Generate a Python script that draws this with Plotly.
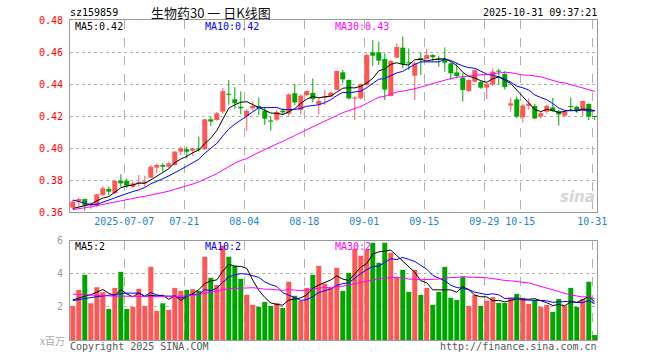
import numpy as np
import plotly.graph_objects as go

dates = ["06-24","06-25","06-26","06-27","06-30",
         "07-01","07-02","07-03","07-04","07-07","07-08","07-09","07-10","07-11",
         "07-14","07-15","07-16","07-17","07-18","07-21","07-22","07-23","07-24","07-25",
         "07-28","07-29","07-30","07-31","08-01","08-04","08-05","08-06","08-07","08-08",
         "08-11","08-12","08-13","08-14","08-15","08-18","08-19","08-20","08-21","08-22",
         "08-25","08-26","08-27","08-28","08-29","09-01","09-02","09-03","09-04","09-05",
         "09-08","09-09","09-10","09-11","09-12","09-15","09-16","09-17","09-18","09-19",
         "09-22","09-23","09-24","09-25","09-26","09-29","09-30","10-09","10-10","10-13",
         "10-14","10-15","10-16","10-17","10-20","10-21","10-22","10-23","10-24","10-27",
         "10-28","10-29","10-30","10-31"]

open_ = [.3627,.3665,.3681,.3642,.3640,.3706,.3744,.3717,.3796,.3794,.3758,.3779,.3779,.3815,
         .3877,.3894,.3883,.3894,.3977,.3992,.3983,.3994,.3992,.4179,.4175,.4227,.4338,.4305,
         .4258,.4198,.4248,.4263,.4233,.4171,.4177,.4233,.4215,.4342,.4238,.4331,.4344,.4273,
         .4313,.4321,.4363,.4473,.4425,.4308,.4310,.4394,.4598,.4598,.4556,.4325,.4565,.4627,
         .4535,.4452,.4560,.4556,.4581,.4556,.4558,.4529,.4473,.4440,.4356,.4415,.4412,.4377,
         .4396,.4481,.4463,.4265,.4304,.4192,.4263,.4263,.4196,.4227,.4254,.4231,.4202,.4260,
         .4258,.4231,.4275,.4198]
high = [.3675,.3690,.3683,.3660,.3715,.3760,.3758,.3800,.3835,.3810,.3790,.3831,.3827,.3894,
        .3904,.3904,.3915,.3983,.4008,.4008,.4002,.4071,.4181,.4196,.4225,.4375,.4425,.4380,
        .4354,.4242,.4290,.4315,.4258,.4196,.4240,.4248,.4342,.4400,.4335,.4360,.4435,.4310,
        .4363,.4350,.4485,.4488,.4429,.4325,.4404,.4592,.4675,.4665,.4592,.4550,.4654,.4696,
        .4623,.4540,.4596,.4620,.4585,.4575,.4629,.4535,.4533,.4467,.4430,.4495,.4420,.4404,
        .4498,.4496,.4480,.4315,.4321,.4277,.4310,.4275,.4225,.4270,.4313,.4240,.4232,.4315,
        .4265,.4294,.4280,.4200]
low = [.3621,.3633,.3608,.3620,.3630,.3700,.3706,.3713,.3758,.3748,.3748,.3758,.3758,.3810,
       .3842,.3852,.3873,.3890,.3956,.3935,.3950,.3977,.3988,.4138,.4170,.4213,.4270,.4245,
       .4210,.4108,.4233,.4206,.4144,.4108,.4170,.4206,.4200,.4269,.4210,.4325,.4285,.4210,
       .4269,.4317,.4360,.4404,.4304,.4175,.4304,.4390,.4513,.4519,.4300,.4321,.4560,.4498,
       .4488,.4300,.4456,.4554,.4540,.4508,.4477,.4425,.4435,.4290,.4352,.4410,.4370,.4304,
       .4390,.4396,.4365,.4227,.4185,.4160,.4240,.4180,.4185,.4215,.4225,.4140,.4195,.4235,
       .4220,.4200,.4175,.4175]
close = [.3665,.3681,.3640,.3655,.3710,.3748,.3727,.3794,.3779,.3765,.3779,.3785,.3790,.3883,
         .3894,.3883,.3904,.3977,.3998,.3977,.3996,.3990,.4179,.4165,.4217,.4355,.4332,.4279,
         .4248,.4232,.4263,.4248,.4183,.4165,.4225,.4223,.4335,.4285,.4327,.4356,.4306,.4294,
         .4319,.4346,.4481,.4429,.4310,.4312,.4398,.4581,.4577,.4546,.4365,.4544,.4631,.4525,
         .4529,.4529,.4556,.4581,.4567,.4554,.4533,.4467,.4450,.4363,.4425,.4486,.4377,.4402,
         .4477,.4477,.4381,.4279,.4196,.4265,.4277,.4185,.4217,.4263,.4231,.4210,.4227,.4256,
         .4231,.4294,.4196,.4194]
volume = [2.06,3.03,3.94,2.22,3.19,2.89,1.88,3.15,4.12,1.88,2.00,3.09,2.06,4.42,1.76,2.22,
          1.82,3.15,2.97,3.03,3.07,2.97,5.03,3.76,3.33,5.70,5.03,4.48,3.70,2.73,2.12,2.00,
          2.30,2.06,2.24,1.94,3.52,2.67,2.36,3.15,3.94,4.48,3.40,3.19,4.36,2.97,4.06,5.52,
          5.09,5.45,5.88,4.67,5.88,5.27,3.80,4.24,2.91,4.24,2.73,3.15,2.12,2.91,4.42,2.55,
          2.42,3.80,2.06,2.73,2.06,2.38,2.59,2.24,2.24,2.55,2.79,2.55,2.18,2.42,2.00,2.12,
          1.70,2.48,2.06,3.15,2.00,2.48,3.52,0.30]

# moving-average values before a full window is available
ma5_head = [.3622,.3630,.3636,.3648]
ma10_head = [.3675,.3665,.3652,.3645,.3648,.3660,.3672,.3688,.3702]
ma30_head = [.3615,.3620,.3626,.3632,.3640,.3648,.3656,.3664,.3672,.3680,.3686,.3692,.3698,
             .3705,.3712,.3720,.3730,.3742,.3752,.3763,.3775,.3788,.3805,.3822,.3840,.3862,
             .3885,.3905,.3922]
vma5_head = [2.42,2.55,2.65,2.73]
vma10_head = [2.38,2.45,2.52,2.58,2.62,2.66,2.70,2.75,2.78]
vma30_head = [2.77,2.76,2.74,2.72,2.70,2.68,2.66,2.65,2.64,2.63,2.63,2.62,2.62,2.62,2.62,
              2.62,2.62,2.63,2.64,2.66,2.70,2.75,2.82,2.90,2.98,3.06,3.10,3.12,3.13]

tick_dates = ["07-07","07-21","08-04","08-18","09-01","09-15","09-29","10-15","10-31"]
tick_text = ["2025-07-07","07-21","08-04","08-18","09-01","09-15","09-29","10-15","10-31"]
price_ticks = [0.36,0.38,0.40,0.42,0.44,0.46,0.48]
vol_ticks = [2,4,6]

code = "sz159859"
title = "生物药30 一 日K线图"
stamp = "2025-10-31 09:37:21"
legend_main = ["MA5:0.42","MA10:0.42","MA30:0.43"]
legend_vol = ["MA5:2","MA10:2","MA30:2"]


def sma(vals, n, head):
    v = np.asarray(vals, float)
    out = list(head)
    for i in range(n - 1, len(v)):
        out.append(v[i - n + 1:i + 1].mean())
    return out


RED = "#ff5656"
GREEN = "#00a600"
MONO = "DejaVu Sans Mono"

n = len(dates)
x = np.arange(n)
o = np.array(open_); c = np.array(close); h = np.array(high); l = np.array(low)
up = c >= o
colors = [RED if u else GREEN for u in up]

fig = go.Figure()

# wicks
for flag, col in ((True, RED), (False, GREEN)):
    wx, wy = [], []
    for i in range(n):
        if up[i] == flag:
            wx += [i, i, None]
            wy += [l[i], h[i], None]
    fig.add_trace(go.Scatter(x=wx, y=wy, mode="lines", line=dict(color=col, width=1),
                             xaxis="x", yaxis="y", hoverinfo="skip"))

# bodies
base = np.minimum(o, c)
hgt = np.maximum(np.abs(c - o), 0.0007)
fig.add_trace(go.Bar(x=x, y=hgt, base=base, width=0.83, marker=dict(color=colors, line=dict(width=0)),
                     xaxis="x", yaxis="y", hoverinfo="skip"))

# price MAs
for vals, col in ((sma(close, 5, ma5_head), "#000000"),
                  (sma(close, 10, ma10_head), "#0000ff"),
                  (sma(close, 30, ma30_head), "#ff00ff")):
    fig.add_trace(go.Scatter(x=x, y=vals, mode="lines", line=dict(color=col, width=1),
                             xaxis="x", yaxis="y", hoverinfo="skip"))

# volume
fig.add_trace(go.Bar(x=x, y=volume, width=0.83, marker=dict(color=colors, line=dict(width=0)),
                     xaxis="x2", yaxis="y2", hoverinfo="skip"))
for vals, col in ((sma(volume, 5, vma5_head), "#000000"),
                  (sma(volume, 10, vma10_head), "#0000ff"),
                  (sma(volume, 30, vma30_head), "#ff00ff")):
    fig.add_trace(go.Scatter(x=x, y=vals, mode="lines", line=dict(color=col, width=1),
                             xaxis="x2", yaxis="y2", hoverinfo="skip"))

GRID_SHIFT = 0.42
tickpos = [dates.index(d) - GRID_SHIFT for d in tick_dates]
xr = [-0.467, 87.37]

common_x = dict(range=xr, tickvals=tickpos, showgrid=True, gridcolor="#b0b0b0", griddash="dash",
                gridwidth=1, showline=True, mirror=True, linecolor="#999999", linewidth=1,
                zeroline=False, ticks="", fixedrange=True)
fig.update_layout(
    width=660, height=360, margin=dict(l=70, r=63, t=20, b=20),
    paper_bgcolor="white", plot_bgcolor="white", showlegend=False, barmode="overlay",
    xaxis=dict(common_x, anchor="y", ticktext=tick_text,
               tickfont=dict(family=MONO, size=10, color="#1a84d0")),
    xaxis2=dict(common_x, anchor="y2", showticklabels=False, matches="x"),
    yaxis=dict(domain=[0.4, 1.0], range=[0.36, 0.48], tickvals=price_ticks,
               ticktext=[f"{v:.2f}" for v in price_ticks], showgrid=True, gridcolor="#b0b0b0",
               griddash="dot", showline=True, mirror=True, linecolor="#999999", zeroline=False,
               ticks="outside", ticklen=4, tickcolor="rgba(0,0,0,0)",
               tickfont=dict(family=MONO, size=10, color="#ff0000")),
    yaxis2=dict(domain=[0.0, 0.3103], range=[0, 6], tickvals=vol_ticks,
                ticktext=[str(v) for v in vol_ticks], showgrid=True, gridcolor="#b0b0b0",
                griddash="dot", showline=True, mirror=True, linecolor="#999999", zeroline=False,
                ticks="outside", ticklen=4, tickcolor="rgba(0,0,0,0)",
                tickfont=dict(family=MONO, size=10, color="#999999")),
)


def px(xp):
    return (xp - 70) / 527.0


def py(yp):
    return (340 - yp) / 320.0


def note(text, xp, yp, anchor, color="#000000", size=10, family=MONO):
    fig.add_annotation(text=text, x=px(xp), y=py(yp), xref="paper", yref="paper",
                       xanchor=anchor, yanchor="middle", showarrow=False,
                       font=dict(family=family, size=size, color=color), borderpad=0)


note(code, 69, 13, "left", "#000000", 10)
note(title, 150, 12, "left", "#111111", 13, "Noto Sans CJK SC")
note(stamp, 598, 13, "right", "#000000", 10)
for txt, xp, col in zip(legend_main, (74, 204, 334), ("#000000", "#0000ff", "#ff00ff")):
    note(txt, xp, 27, "left", col, 10)
for txt, xp, col in zip(legend_vol, (74, 204, 334), ("#000000", "#0000ff", "#ff00ff")):
    note(txt, xp, 246, "left", col, 10)
note("x百万", 66, 340, "right", "#aaaaaa", 10, "Noto Sans CJK SC")
note("Copyright 2025 SINA.COM", 69, 346, "left", "#555555", 10)
note("http://finance.sina.com.cn", 598, 346, "right", "#555555", 10)
fig.add_annotation(text="<i><b>sina</b></i>", x=px(597), y=py(197), xref="paper", yref="paper",
                   xanchor="right", yanchor="middle", showarrow=False,
                   font=dict(family="DejaVu Sans", size=15, color="#cccccc"), opacity=0.8)

fig.write_html("out.html", config={"displayModeBar": False, "staticPlot": True},
               post_script="document.body.style.margin='0';document.body.style.overflow='hidden';")
